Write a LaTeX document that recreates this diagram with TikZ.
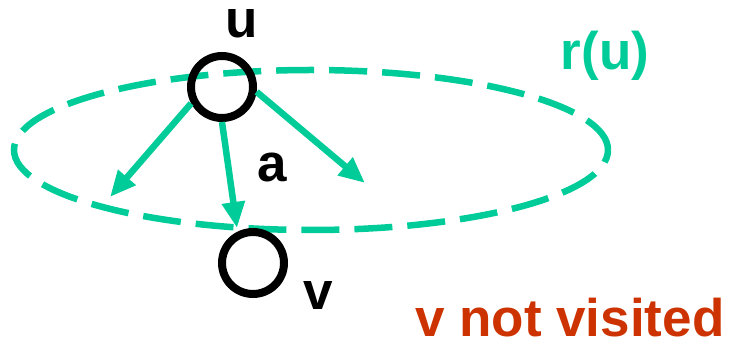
\documentclass[tikz,border=0pt]{standalone}
\usepackage{fontspec}
\setmainfont{Liberation Sans}
\usetikzlibrary{arrows.meta}
\definecolor{tealc}{RGB}{0,204,153}
\definecolor{redc}{RGB}{204,51,0}
\tikzset{
  vertex/.style={circle,draw=black,line width=8pt,minimum size=62pt,inner sep=0pt},
  region/.style={draw=tealc,line width=6.5pt,dash pattern=on 38pt off 15pt},
  edge/.style={draw=tealc,line width=6.5pt,-{Triangle[length=26pt,width=22pt]}},
  lbl/.style={font=\fontsize{53}{62}\selectfont\bfseries,inner sep=0pt,anchor=base}
}
\begin{document}
\begin{tikzpicture}[x=1pt,y=-1pt]
\useasboundingbox (0,0) rectangle (729,347);
\draw[region] (311,150) ellipse [x radius=297pt, y radius=80pt];
\node[vertex] (u) at (222,87) {};
\node[vertex] (v) at (253,263) {};
\coordinate (t1) at (110,197);
\coordinate (t2) at (237,228);
\coordinate (t3) at (365,183);
\draw[edge] (u.208) -- (t1);
\draw[edge] (u.-90) -- (t2);
\draw[edge] (u.-8) -- (t3);
\node[lbl] (ul) at (242,38) {u};
\node[lbl] (al) at (272,182) {a};
\node[lbl] (vl) at (318,310) {v};
\node[lbl,text=tealc] (rl) at (605,70) {r(u)};
\node[lbl,text=redc,anchor=base west] (nv) at (415,337) {v not visited};
\end{tikzpicture}
\end{document}
